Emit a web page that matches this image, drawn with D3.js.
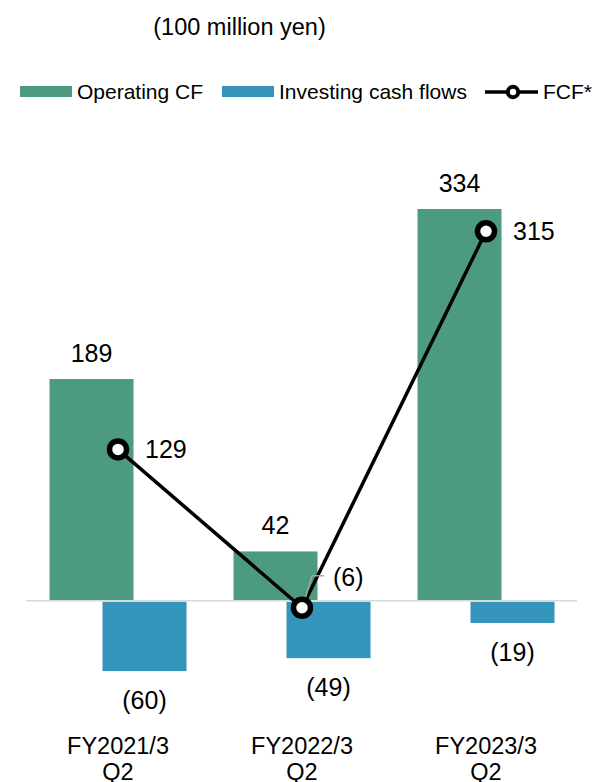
<!DOCTYPE html>
<html>
<head>
<meta charset="utf-8">
<script src="https://cdn.jsdelivr.net/npm/d3@7"></script>
<style>
  body { margin: 0; background: #fff; }
  text { font-family: "Liberation Sans", Arial, sans-serif; fill: #000; }
</style>
</head>
<body>
<svg id="chart" width="593" height="782"></svg>
<script>
const categories = ['FY2021/3 Q2', 'FY2022/3 Q2', 'FY2023/3 Q2'];
const categoryLines = [['FY2021/3', 'Q2'], ['FY2022/3', 'Q2'], ['FY2023/3', 'Q2']];
const operatingCF = [189, 42, 334];
const investingCF = [-60, -49, -19];
const fcf = [129, -6, 315];

const unitLabel = '(100 million yen)';
const legendLabels = ['Operating CF', 'Investing cash flows', 'FCF*'];

const GREEN = '#4c9a80', BLUE = '#3594bb';

const fmt = v => v < 0 ? `(${-v})` : `${v}`;

const svg = d3.select('#chart');

// scales
const x = d3.scaleBand().domain(categories).range([26, 578]).padding(0);
const series = d3.scalePoint().domain(['op', 'inv']).range([-26.5, 26.5]);
const barW = 84;
const y = d3.scaleLinear().domain([0, 334]).range([600.7, 209]);
const cx = c => x(c) + x.bandwidth() / 2;

// title
svg.append('text')
  .attr('x', 239.5).attr('y', 27).attr('dy', '0.35em')
  .attr('text-anchor', 'middle')
  .style('font-size', '23.5px')
  .text(unitLabel);

// legend
const lg = svg.append('g');
lg.append('rect').attr('x', 20).attr('y', 86).attr('width', 52).attr('height', 11).attr('fill', GREEN);
lg.append('text').attr('x', 77).attr('y', 92).attr('dy', '0.35em').style('font-size', '21px').text(legendLabels[0]);
lg.append('rect').attr('x', 222).attr('y', 86).attr('width', 52).attr('height', 11).attr('fill', BLUE);
lg.append('text').attr('x', 279).attr('y', 92).attr('dy', '0.35em').style('font-size', '21px').text(legendLabels[1]);
lg.append('line').attr('x1', 485).attr('x2', 538).attr('y1', 92).attr('y2', 92)
  .attr('stroke', '#000').attr('stroke-width', 3.5);
lg.append('circle').attr('cx', 513).attr('cy', 92).attr('r', 5.2)
  .attr('fill', '#fff').attr('stroke', '#000').attr('stroke-width', 4);
lg.append('text').attr('x', 543).attr('y', 92).attr('dy', '0.35em').style('font-size', '21px').text(legendLabels[2]);

// bars
svg.append('g').selectAll('rect.op').data(operatingCF).join('rect')
  .attr('class', 'op')
  .attr('x', (d, i) => cx(categories[i]) + series('op') - barW / 2)
  .attr('y', d => y(Math.max(0, d)))
  .attr('width', barW)
  .attr('height', d => Math.abs(y(d) - y(0)))
  .attr('fill', GREEN);

svg.append('g').selectAll('rect.inv').data(investingCF).join('rect')
  .attr('class', 'inv')
  .attr('x', (d, i) => cx(categories[i]) + series('inv') - barW / 2)
  .attr('y', d => y(Math.max(0, d)) + 1)
  .attr('width', barW)
  .attr('height', d => Math.abs(y(d) - y(0)) - 1)
  .attr('fill', BLUE);

// zero line
svg.append('line')
  .attr('x1', 26).attr('x2', 577)
  .attr('y1', y(0)).attr('y2', y(0))
  .attr('stroke', '#d9d9d9').attr('stroke-width', 1.5);

// bar labels
svg.append('g').selectAll('text').data(operatingCF).join('text')
  .attr('x', (d, i) => cx(categories[i]) + series('op'))
  .attr('y', d => y(d) - 26).attr('dy', '0.35em')
  .attr('text-anchor', 'middle')
  .style('font-size', '25px')
  .text(fmt);

svg.append('g').selectAll('text').data(investingCF).join('text')
  .attr('x', (d, i) => cx(categories[i]) + series('inv'))
  .attr('y', d => y(d) + 29.5).attr('dy', '0.35em')
  .attr('text-anchor', 'middle')
  .style('font-size', '25px')
  .text(fmt);

// FCF line
const line = d3.line().x((d, i) => cx(categories[i])).y(d => y(d));
svg.append('path').datum(fcf)
  .attr('d', line)
  .attr('fill', 'none').attr('stroke', '#000').attr('stroke-width', 3.5);

// leader line for the small negative FCF
fcf.forEach((d, i) => {
  if (d < 0) {
    const px = cx(categories[i]), py = y(d);
    svg.append('polyline')
      .attr('points', `${px + 1},${py - 2} ${px + 10},${py - 32} ${px + 22},${py - 32}`)
      .attr('fill', 'none').attr('stroke', '#a6a6a6').attr('stroke-width', 1.5);
  }
});

svg.append('g').selectAll('circle').data(fcf).join('circle')
  .attr('cx', (d, i) => cx(categories[i]))
  .attr('cy', d => y(d))
  .attr('r', 8.5)
  .attr('fill', '#fff').attr('stroke', '#000').attr('stroke-width', 5.5);

svg.append('g').selectAll('text').data(fcf).join('text')
  .attr('x', (d, i) => cx(categories[i]) + (d < 0 ? 31 : 27))
  .attr('y', d => d < 0 ? y(d) - 30 : y(d)).attr('dy', '0.35em')
  .style('font-size', '25px')
  .text(fmt);

// category labels (second line runs off the bottom edge, as in the original)
const cat = svg.append('g').selectAll('text').data(categoryLines).join('text')
  .attr('x', (d, i) => cx(categories[i]))
  .attr('y', 746)
  .attr('text-anchor', 'middle')
  .style('font-size', '23.5px');
cat.selectAll('tspan').data(d => d).join('tspan')
  .attr('x', function() { return d3.select(this.parentNode).attr('x'); })
  .attr('dy', (d, j) => j === 0 ? '0.35em' : 26)
  .text(d => d);
</script>
</body>
</html>
